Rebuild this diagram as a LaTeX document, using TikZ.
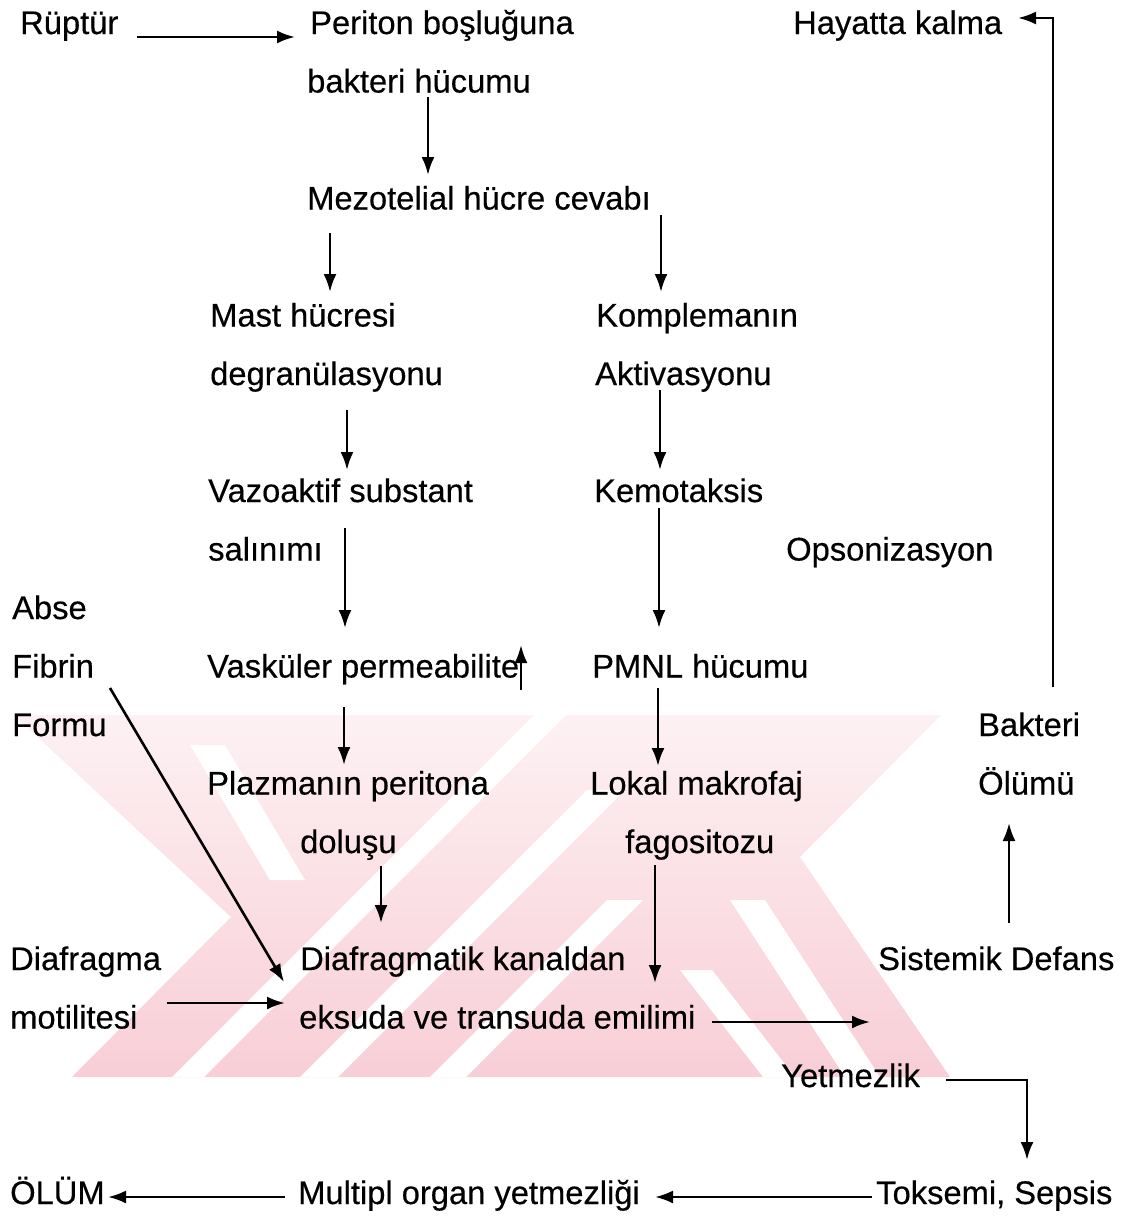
\documentclass[tikz,border=0pt]{standalone}
\usepackage{fontspec}
\setmainfont{Liberation Sans}[FakeBold=0.4]
\usetikzlibrary{arrows.meta,calc}
\definecolor{wmtop}{RGB}{253,241,243}
\definecolor{wmbot}{RGB}{248,206,215}
\begin{document}
\begin{tikzpicture}[x=1pt,y=-1pt,
  lbl/.style={anchor=base west,inner sep=0pt,font=\fontsize{32.7}{39}\selectfont},
  arr/.style={line width=2.6pt,-{Latex[length=18pt,width=13pt]}},
  gap/.style={fill=white}]
\useasboundingbox (0,0) rectangle (1132,1224);
\fill[white] (0,0) rectangle (1132,1224);
% watermark (approximate)
\shade[top color=wmtop,bottom color=wmbot]
  (14,715) -- (941,715) -- (800,857) -- (950,1077) -- (72,1077) -- (231,917) -- cycle;
\fill[gap] (534,715) -- (566,715) -- (204,1077) -- (172,1077) -- cycle;
\fill[gap] (300,1077) -- (338,1077) -- (625,790) -- (587,790) -- cycle;
\fill[gap] (430,1077) -- (466,1077) -- (643,900) -- (607,900) -- cycle;
\fill[gap] (190,745) -- (225,745) -- (305,880) -- (270,880) -- cycle;
\fill[gap] (730,900) -- (765,900) -- (880,1077) -- (845,1077) -- cycle;
\fill[gap] (680,970) -- (712,970) -- (795,1077) -- (763,1077) -- cycle;
% texts
\node[lbl] (rup)  at (20,34)    {Rüptür};
\node[lbl] (per1) at (310,34)   {Periton boşluğuna};
\node[lbl] (per2) at (307,92.5) {bakteri hücumu};
\node[lbl] (hay)  at (793,34)   {Hayatta kalma};
\node[lbl] (mez)  at (307,209.5) {Mezotelial hücre cevabı};
\node[lbl] (mast1) at (210,326.5) {Mast hücresi};
\node[lbl] (mast2) at (210,385)   {degranülasyonu};
\node[lbl] (kom1) at (596,326.5) {Komplemanın};
\node[lbl] (kom2) at (595,385)   {Aktivasyonu};
\node[lbl] (vaz1) at (208,502)   {Vazoaktif substant};
\node[lbl] (vaz2) at (208,560.5) {salınımı};
\node[lbl] (kem)  at (594,502)   {Kemotaksis};
\node[lbl] (ops)  at (786,560.5) {Opsonizasyon};
\node[lbl] (abse) at (12,619)    {Abse};
\node[lbl] (fib)  at (12,677.5)  {Fibrin};
\node[lbl] (form) at (12,736)    {Formu};
\node[lbl] (vask) at (207,677.5) {Vasküler permeabilite};
\node[lbl] (pmnl) at (592,677.5) {PMNL hücumu};
\node[lbl] (bak1) at (978,736)   {Bakteri};
\node[lbl] (bak2) at (978,794.5) {Ölümü};
\node[lbl] (plz1) at (207,794.5) {Plazmanın peritona};
\node[lbl] (plz2) at (300,853)   {doluşu};
\node[lbl] (lok1) at (590,794.5) {Lokal makrofaj};
\node[lbl] (lok2) at (625,853)   {fagositozu};
\node[lbl] (dia1) at (10,970)    {Diafragma};
\node[lbl] (dia2) at (10,1028.5) {motilitesi};
\node[lbl] (dk1)  at (300,970)   {Diafragmatik kanaldan};
\node[lbl] (dk2)  at (299,1028.5) {eksuda ve transuda emilimi};
\node[lbl] (sis)  at (878,970)   {Sistemik Defans};
\node[lbl] (yet)  at (781,1087)  {Yetmezlik};
\node[lbl] (olum) at (10,1204)   {ÖLÜM};
\node[lbl] (mult) at (298,1204)  {Multipl organ yetmezliği};
\node[lbl] (tok)  at (876,1204)  {Toksemi, Sepsis};
% connectors
\draw[arr] ($(rup.base west)+(117,3)$) -- ($(per1.base west)+(-15,3)$);
\draw[arr] ($(per2.base west)+(121,4.5)$) -- ($(mez.base west)+(121,-34.5)$);
\draw[arr] ($(mez.base west)+(23,23.5)$) -- ($(mast1.base west)+(120,-34.5)$);
\draw[arr] ($(mez.base west)+(354,5.5)$) -- ($(kom1.base west)+(65,-34.5)$);
\draw[arr] ($(mast2.base west)+(137,25)$) -- ($(vaz1.base west)+(139,-32)$);
\draw[arr] ($(kom2.base west)+(65,5)$) -- ($(kem.base west)+(66,-32)$);
\draw[arr] ($(vaz2.base west)+(137,-32.5)$) -- ($(vask.base west)+(138,-49.5)$);
\draw[arr] ($(kem.base west)+(65,6)$) -- ($(pmnl.base west)+(67,-49.5)$);
\draw[arr] ($(vask.base west)+(314,12.5)$) -- ($(vask.base west)+(314,-32.5)$);
\draw[arr] ($(vask.base west)+(137,29.5)$) -- ($(plz1.base west)+(137,-29.5)$);
\draw[arr] ($(pmnl.base west)+(66,10.5)$) -- ($(lok1.base west)+(68,-28.5)$);
\draw[arr] ($(plz2.base west)+(81,13)$) -- ($(dk1.base west)+(81,-47)$);
\draw[arr] ($(lok2.base west)+(30,12)$) -- ($(dk2.base west)+(356,-45.5)$);
\draw[arr] ($(fib.base west)+(98,10.5)$) -- ($(dk1.base west)+(-16,12)$);
\draw[arr] ($(dia2.base west)+(157,-25.5)$) -- ($(dk2.base west)+(-14,-25.5)$);
\draw[arr] ($(dk2.base west)+(413,-6.5)$) -- ($(sis.base west)+(-8,52)$);
\draw[arr] ($(yet.base west)+(165,-7)$) -| ($(tok.base west)+(151,-44)$);
\draw[arr] ($(tok.base west)+(-4,-7)$) -- ($(mult.base west)+(357,-7)$);
\draw[arr] ($(mult.base west)+(-13,-7)$) -- ($(olum.base west)+(98,-7)$);
\draw[arr] ($(sis.base west)+(131,-47)$) -- ($(bak2.base west)+(31,28.5)$);
\draw[arr] ($(bak1.base west)+(75,-49)$) |- ($(hay.base west)+(225,-16)$);
\end{tikzpicture}
\end{document}
